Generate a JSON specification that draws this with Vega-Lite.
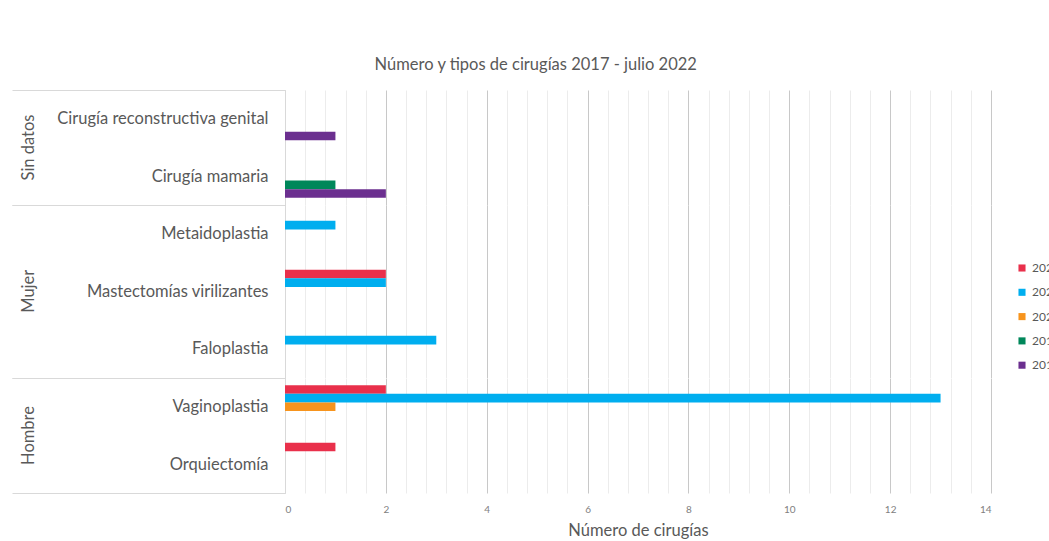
{
  "$schema": "https://vega.github.io/schema/vega-lite/v6.json",
  "padding": {"left": 11, "top": 56, "right": 0, "bottom": 0},
  "background": "white",
  "bounds": "flush",
  "title": {"text": "Número y tipos de cirugías 2017 - julio 2022", "font": "Lato", "fontSize": 16.5, "fontWeight": "normal", "color": "#595959", "anchor": "middle", "offset": 9},
  "data": {"values": [
    {"grupo": "Sin datos", "cirugia": "Cirugía reconstructiva genital", "anio": "2018", "n": 1},
    {"grupo": "Sin datos", "cirugia": "Cirugía mamaria", "anio": "2019", "n": 1},
    {"grupo": "Sin datos", "cirugia": "Cirugía mamaria", "anio": "2018", "n": 2},
    {"grupo": "Mujer", "cirugia": "Metaidoplastia", "anio": "2021", "n": 1},
    {"grupo": "Mujer", "cirugia": "Mastectomías virilizantes", "anio": "2022", "n": 2},
    {"grupo": "Mujer", "cirugia": "Mastectomías virilizantes", "anio": "2021", "n": 2},
    {"grupo": "Mujer", "cirugia": "Faloplastia", "anio": "2021", "n": 3},
    {"grupo": "Hombre", "cirugia": "Vaginoplastia", "anio": "2022", "n": 2},
    {"grupo": "Hombre", "cirugia": "Vaginoplastia", "anio": "2021", "n": 13},
    {"grupo": "Hombre", "cirugia": "Vaginoplastia", "anio": "2020", "n": 1},
    {"grupo": "Hombre", "cirugia": "Orquiectomía", "anio": "2022", "n": 1}
  ]},
  "facet": {
    "row": {
      "field": "grupo",
      "sort": ["Sin datos", "Mujer", "Hombre"],
      "title": null,
      "header": {"labelAngle": -90, "labelOrient": "left", "labelFont": "Lato", "labelFontSize": 16.5, "labelColor": "#595959", "labelPadding": 240}
    }
  },
  "spacing": 0,
  "resolve": {"scale": {"y": "independent", "yOffset": "independent"}},
  "spec": {
    "width": 706,
    "height": {"step": 57.5, "for": "position"},
    "mark": {"type": "bar"},
    "encoding": {
      "y": {
        "field": "cirugia",
        "type": "nominal",
        "sort": ["Cirugía reconstructiva genital", "Cirugía mamaria", "Metaidoplastia", "Mastectomías virilizantes", "Faloplastia", "Vaginoplastia", "Orquiectomía"],
        "scale": {"paddingInner": 0, "paddingOuter": 0},
        "axis": {
          "title": null,
          "tickBand": "extent",
          "tickSize": 273,
          "tickColor": "#d9d9d9",
          "tickOpacity": {"condition": {"test": "datum.extra || indexof(['Cirugía mamaria','Faloplastia','Orquiectomía'], datum.value) >= 0", "value": 1}, "value": 0},
          "labelPadding": -256,
          "labelLimit": 400,
          "labelFont": "Lato",
          "labelFontSize": 16.5,
          "labelColor": "#595959",
          "domainColor": "#d9d9d9",
          "grid": false
        }
      },
      "yOffset": {"field": "anio", "type": "nominal", "scale": {"domain": ["2022", "2021", "2020", "2019", "2018"], "paddingInner": 0, "paddingOuter": 0.84}},
      "x": {
        "field": "n",
        "type": "quantitative",
        "scale": {"domain": [0, 14], "nice": false},
        "axis": {
          "title": "Número de cirugías",
          "titleFont": "Lato",
          "titleFontSize": 16.5,
          "titleFontWeight": "normal",
          "titleColor": "#595959",
          "titlePadding": 8,
          "values": [0, 0.4, 0.8, 1.2, 1.6, 2, 2.4, 2.8, 3.2, 3.6, 4, 4.4, 4.8, 5.2, 5.6, 6, 6.4, 6.8, 7.2, 7.6, 8, 8.4, 8.8, 9.2, 9.6, 10, 10.4, 10.8, 11.2, 11.6, 12, 12.4, 12.8, 13.2, 13.6, 14],
          "labelExpr": "abs(datum.value / 2 - round(datum.value / 2)) < 0.001 ? format(datum.value, 'd') : ''",
          "labelFont": "Lato",
          "labelFontSize": 10,
          "labelColor": "#808080",
          "labelPadding": 11,
          "ticks": false,
          "domain": false,
          "grid": true,
          "gridColor": {"condition": {"test": "abs(datum.value / 2 - round(datum.value / 2)) < 0.001", "value": "#c8c8c8"}, "value": "#ececec"}
        }
      },
      "color": {
        "field": "anio",
        "type": "nominal",
        "scale": {"domain": ["2022", "2021", "2020", "2019", "2018"], "range": ["#E9304B", "#00AEEF", "#F7941D", "#00875A", "#6B2F8F"]},
        "legend": {"title": null, "orient": "none", "legendX": 731, "legendY": 172, "symbolType": "square", "symbolSize": 50, "symbolStrokeWidth": 0, "labelFont": "Lato", "labelFontSize": 12, "labelColor": "#595959", "rowPadding": 12.3}
      }
    }
  },
  "config": {"view": {"stroke": null}, "font": "Lato", "facet": {"spacing": 0}}
}
